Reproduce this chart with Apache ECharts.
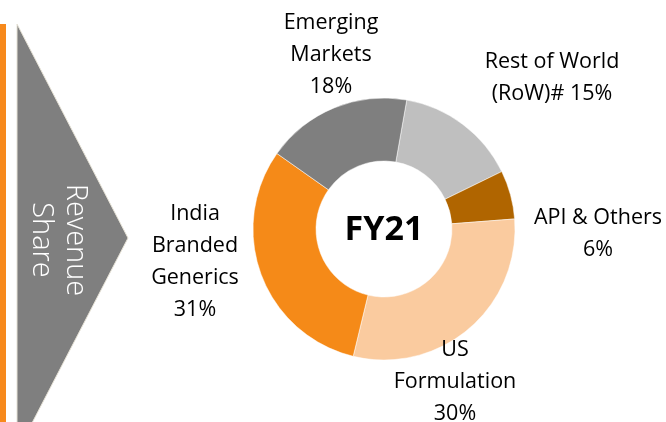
<!DOCTYPE html>
<html>
<head>
<meta charset="utf-8">
<script src="https://cdn.jsdelivr.net/npm/echarts@6/dist/echarts.min.js"></script>
<style>
  html, body { margin: 0; padding: 0; background: #fff; }
  #chart { width: 666px; height: 422px; }
</style>
</head>
<body>
<div id="chart"></div>
<script>
// 收入占比 FY21 (clockwise from Rest of World)
var categories = ['Rest of World (RoW)#', 'API & Others', 'US Formulation', 'India Branded Generics', 'Emerging Markets']
var shares = [15, 6, 30, 31, 18]
var labelTemplates = [
  'Rest of World\n(RoW)# {v}%',
  'API & Others\n{v}%',
  'US\nFormulation\n{v}%',
  'India\nBranded\nGenerics\n{v}%',
  'Emerging\nMarkets\n{v}%'
]
var sliceColors = ['#bfbfbf', '#b06500', '#facb9f', '#f58a18', '#7f7f7f']
// label anchor points, by data index
var labelPos = [[552, 78], [598, 234], [455, 382], [195, 262], [331, 55]]

var chart = echarts.init(document.getElementById('chart'))

var option = {
  animation: false,
  textStyle: { fontFamily: 'Open Sans' },
  graphic: [
    // orange side bar
    { type: 'rect', shape: { x: 0, y: 24, width: 6, height: 400 }, style: { fill: '#f7891c' } },
    // grey chevron
    {
      type: 'polygon',
      shape: { points: [[17, 24], [128, 238], [17, 452]] },
      style: { fill: '#7f7f7f', stroke: '#e6e2d6', lineWidth: 1 }
    },
    {
      type: 'text',
      x: 58, y: 240,
      rotation: -Math.PI / 2,
      style: {
        text: 'Revenue\nShare',
        fill: '#fff',
        font: '300 29px "Open Sans"',
        lineHeight: 34,
        align: 'center',
        verticalAlign: 'middle'
      }
    },
    // 中间文字
    {
      type: 'text',
      x: 384, y: 230,
      style: {
        text: 'FY21',
        fill: '#000',
        font: 'bold 34px "Open Sans"',
        align: 'center',
        verticalAlign: 'middle'
      }
    }
  ],
  series: [
    {
      type: 'pie',
      center: [384, 229],
      radius: [68, 131],
      startAngle: 80,
      clockwise: true,
      data: categories.map(function (c, i) {
        return { name: c, value: shares[i], itemStyle: { color: sliceColors[i] } }
      }),
      itemStyle: { borderColor: '#fff', borderWidth: 0.5 },
      label: {
        show: true,
        position: 'outside',
        color: '#000',
        fontSize: 21.5,
        lineHeight: 32,
        align: 'center',
        overflow: 'none',
        formatter: function (p) {
          return labelTemplates[p.dataIndex].replace('{v}', p.value)
        }
      },
      labelLine: { show: false },
      labelLayout: function (p) {
        var pos = labelPos[p.dataIndex]
        return { x: pos[0], y: pos[1], align: 'center', verticalAlign: 'middle' }
      },
      emphasis: { disabled: true }
    }
  ]
}

chart.setOption(option)
</script>
</body>
</html>
